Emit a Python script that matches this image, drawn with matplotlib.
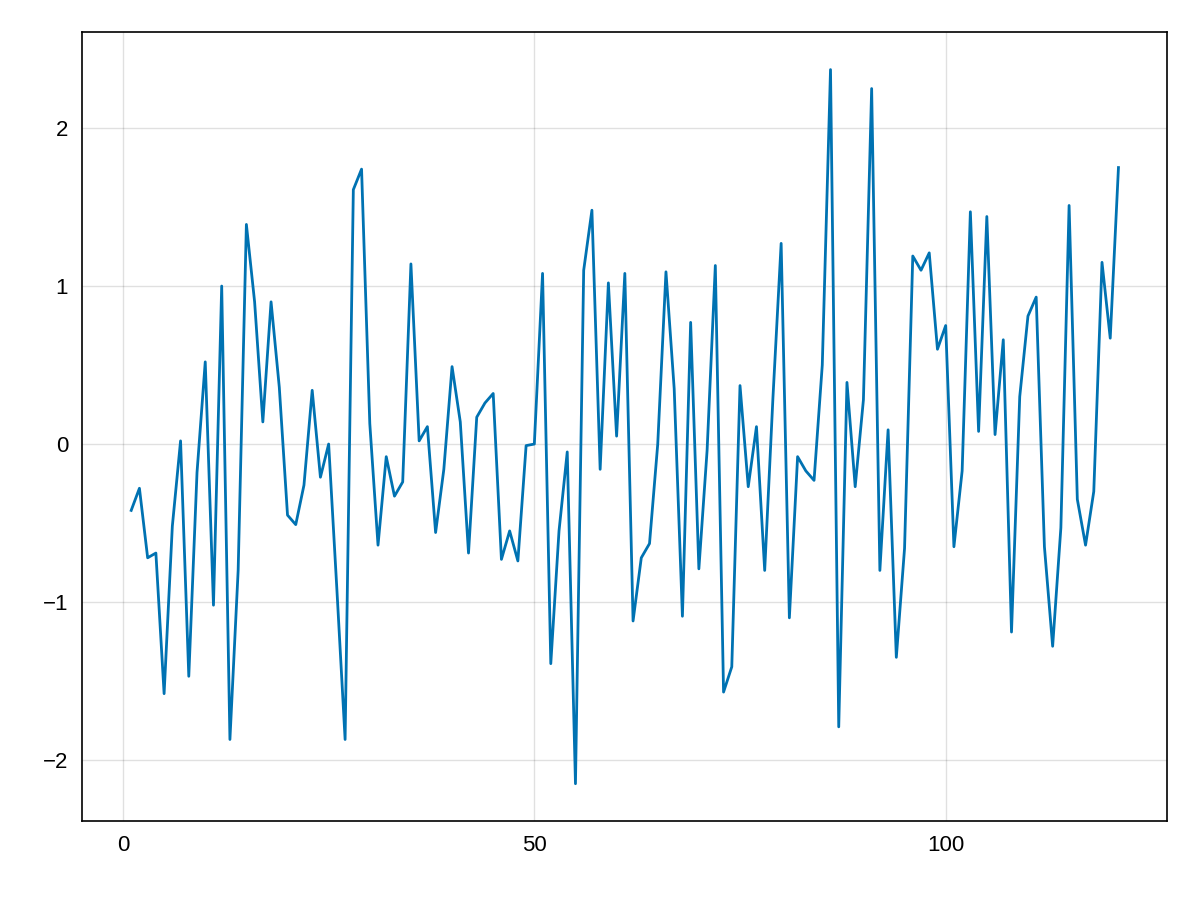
import matplotlib
matplotlib.use("Agg")
import matplotlib.pyplot as plt
import numpy as np

y = [-0.42,-0.28,-0.72,-0.69,-1.58,-0.52,0.02,-1.47,-0.18,0.52,
     -1.02,1.00,-1.87,-0.80,1.39,0.90,0.14,0.90,0.36,-0.45,
     -0.51,-0.26,0.34,-0.21,0.00,-0.92,-1.87,1.61,1.74,0.13,
     -0.64,-0.08,-0.33,-0.24,1.14,0.02,0.11,-0.56,-0.16,0.49,
     0.14,-0.69,0.17,0.26,0.32,-0.73,-0.55,-0.74,-0.01,0.00,
     1.08,-1.39,-0.55,-0.05,-2.15,1.10,1.48,-0.16,1.02,0.05,
     1.08,-1.12,-0.72,-0.63,0.00,1.09,0.35,-1.09,0.77,-0.79,
     -0.04,1.13,-1.57,-1.41,0.37,-0.27,0.11,-0.80,0.29,1.27,
     -1.10,-0.08,-0.17,-0.23,0.50,2.37,-1.79,0.39,-0.27,0.28,
     2.25,-0.80,0.09,-1.35,-0.66,1.19,1.10,1.21,0.60,0.75,
     -0.65,-0.17,1.47,0.08,1.44,0.06,0.66,-1.19,0.30,0.81,
     0.93,-0.65,-1.28,-0.53,1.51,-0.35,-0.64,-0.30,1.15,0.67,1.75]
x = np.arange(1, len(y) + 1)
xticks = [0, 50, 100]
yticks = [-2, -1, 0, 1, 2]

plt.rcParams['font.family'] = ['Liberation Sans', 'DejaVu Sans']
fig = plt.figure(figsize=(12, 9), dpi=100)
ax = fig.add_axes([82/1200, 1-821/900, (1167-82)/1200, (821-32)/900])
ax.plot(x, y, color='#0072B2', lw=2)
ax.set_xlim(-4.98, 126.9)
ax.set_ylim(-2.386, 2.608)
ax.set_xticks(xticks)
ax.set_yticks(yticks)
ax.set_yticklabels([str(t).replace('-', '\u2212') for t in yticks])
ax.grid(True, color='#000000', alpha=0.12, lw=1)
ax.set_axisbelow(True)
ax.tick_params(length=0, labelsize=16, pad=10)
for s in ax.spines.values():
    s.set_linewidth(1.2)
fig.savefig('out.png', dpi=100)
